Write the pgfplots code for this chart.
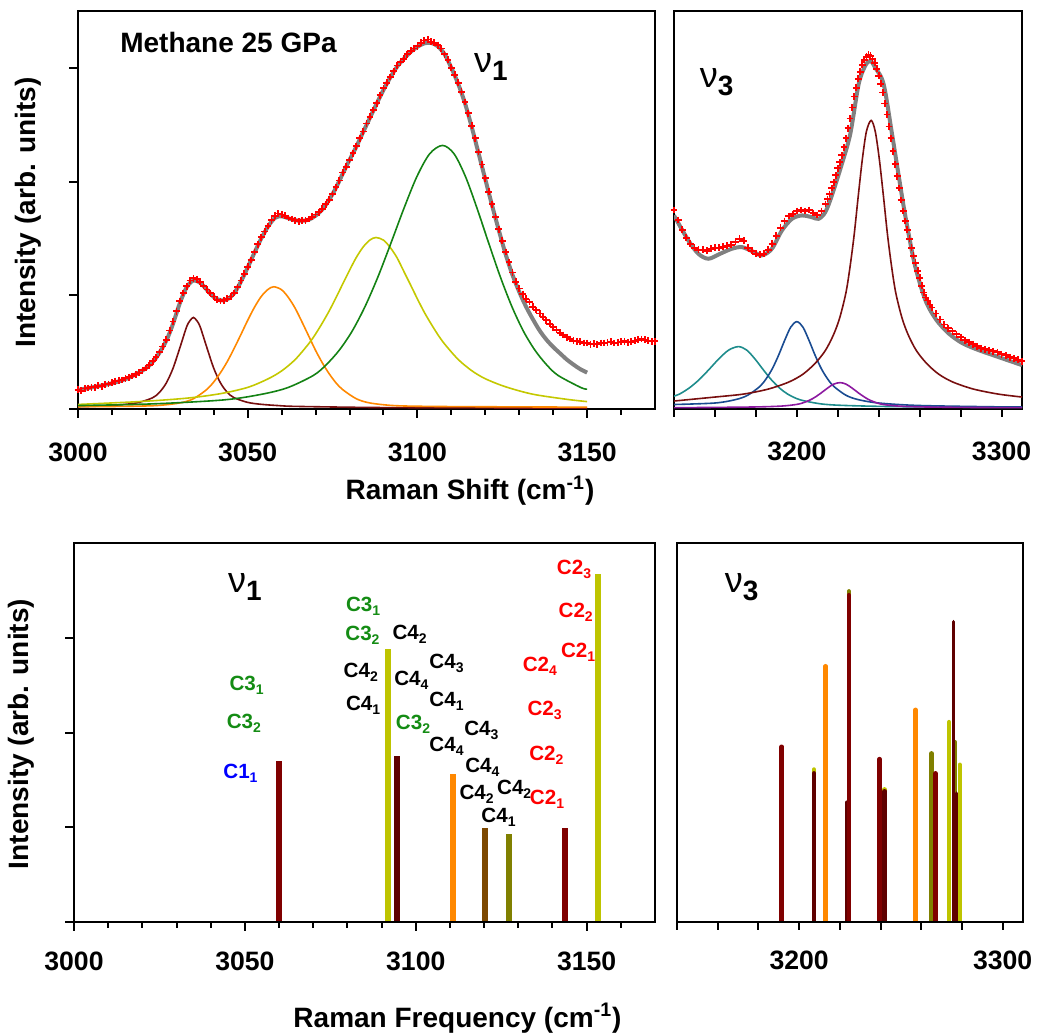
\documentclass[border=0pt]{standalone}
\usepackage{pgfplots}
\pgfplotsset{compat=1.18}
\usepackage{fontspec}
\setmainfont{Liberation Sans}
\definecolor{cmaroon}{RGB}{128,0,0}
\definecolor{cdmaroon}{RGB}{95,0,0}
\definecolor{cyg}{RGB}{190,196,0}
\definecolor{corange}{RGB}{255,136,0}
\definecolor{cbrown}{RGB}{125,72,0}
\definecolor{colive}{RGB}{128,128,0}
\definecolor{cgreen}{RGB}{20,130,20}
\definecolor{cyel}{RGB}{196,200,0}
\definecolor{cgray}{RGB}{128,128,128}
\definecolor{cteal}{RGB}{30,140,140}
\definecolor{cblue}{RGB}{25,75,145}
\definecolor{cpurple}{RGB}{140,25,160}
\definecolor{ccomp}{RGB}{120,15,15}
\definecolor{lgreen}{RGB}{20,140,20}
\newcommand{\lab}[3]{\textcolor{#1}{\bfseries\fontsize{10.3}{11}\selectfont C#2\raisebox{-2pt}{\fontsize{7}{7}\selectfont #3}}}
\newcommand{\nul}[1]{{\fontsize{18}{18}\selectfont ν}\raisebox{-4pt}{\bfseries\fontsize{14}{14}\selectfont #1}}
\pgfplotsset{
  panel/.style={scale only axis, anchor=south west, tick align=outside,
    xtick pos=bottom, ytick pos=left,
    tick style={black, line width=1pt},
    axis line style={line width=1.15pt},
    xticklabel style={font=\bfseries\fontsize{13.3}{14}\selectfont},
    major tick length=4.5pt, minor tick length=3pt},
  comp/.style={smooth, no marks, line width=0.8pt},
  fit/.style={smooth, no marks, line width=2pt, color=cgray},
  dat/.style={only marks, mark=+, mark size=1.7pt, color=red, mark options={line width=0.9pt}},
}
\begin{document}
\begin{tikzpicture}
\useasboundingbox (0,0) rectangle (518.5pt,516pt);
% ---------------- top left ----------------
\begin{axis}[panel, at={(39pt,311.5pt)}, width=288.5pt, height=199pt,
  xmin=3000, xmax=3170, ymin=0, ymax=3.5,
  xtick={3000,3050,3100,3150}, xticklabels={3000,3050,3100,3150},
  xticklabel style={yshift=-9pt},
  minor xtick={3010,3020,3030,3040,3060,3070,3080,3090,3110,3120,3130,3140,3160},
  ytick={0,1,2,3}, yticklabels={}]
\addplot[comp, color=ccomp] coordinates {(3000,0.02)(3004,0.023)(3009,0.03)(3014,0.041)(3018,0.058)(3022,0.099)(3024,0.146)(3026,0.228)(3028,0.358)(3030,0.537)(3032,0.722)(3033,0.777)(3034,0.805)(3035,0.777)(3036,0.722)(3038,0.537)(3040,0.358)(3042,0.228)(3044,0.146)(3046,0.099)(3050,0.058)(3054,0.041)(3059,0.03)(3064,0.023)(3084,0.014)(3100,0.011)(3125,0.009)(3150,0.008)};
\addplot[comp, color=corange] coordinates {(3000,0.02)(3013,0.023)(3023,0.03)(3030,0.053)(3034,0.09)(3038,0.173)(3040,0.238)(3042,0.32)(3044,0.418)(3046,0.533)(3048,0.655)(3050,0.78)(3052,0.895)(3054,0.99)(3056,1.052)(3057.7,1.075)(3060,1.048)(3062,0.98)(3064,0.885)(3066,0.765)(3068,0.64)(3070,0.515)(3072,0.405)(3074,0.31)(3076,0.23)(3078,0.17)(3082,0.09)(3086,0.053)(3093,0.03)(3103,0.023)(3118,0.02)(3150,0.016)};
\addplot[comp, color=cyel] coordinates {(3000,0.04)(3018,0.065)(3032,0.095)(3042,0.135)(3050,0.19)(3056,0.265)(3060,0.335)(3064,0.435)(3068,0.575)(3070,0.66)(3072,0.757)(3074,0.862)(3076,0.978)(3078,1.1)(3080,1.22)(3082,1.333)(3084,1.424)(3086,1.486)(3087.8,1.508)(3090,1.485)(3092,1.42)(3094,1.33)(3096,1.21)(3098,1.09)(3100,0.968)(3102,0.852)(3104,0.75)(3106,0.655)(3108,0.572)(3112,0.436)(3116,0.337)(3120,0.266)(3126,0.195)(3134,0.13)(3144,0.085)(3150,0.065)};
\addplot[comp, color=cgreen] coordinates {(3000,0.03)(3022,0.045)(3043,0.08)(3054.2,0.13)(3061.8,0.188)(3069.4,0.296)(3073.2,0.391)(3077,0.518)(3080.8,0.686)(3084.6,0.903)(3088.4,1.164)(3092.2,1.459)(3096,1.762)(3099.8,2.041)(3103.6,2.244)(3107.4,2.318)(3110.8,2.244)(3114.2,2.041)(3117.6,1.762)(3121,1.459)(3124.4,1.164)(3127.8,0.903)(3131.2,0.686)(3134.6,0.518)(3138,0.391)(3141.4,0.296)(3148.2,0.188)(3150,0.175)};
\addplot[dat] coordinates {(3000,0.17)(3001,0.16)(3002,0.18)(3003,0.185)(3004,0.19)(3005,0.19)(3006,0.205)(3007,0.2)(3008,0.215)(3009,0.22)(3010,0.23)(3011,0.245)(3012,0.25)(3013,0.255)(3014,0.27)(3015,0.28)(3016,0.29)(3017,0.305)(3018,0.32)(3019,0.34)(3020,0.36)(3021,0.385)(3022,0.42)(3023,0.455)(3024,0.5)(3025,0.55)(3026,0.61)(3027,0.69)(3028,0.77)(3029,0.86)(3030,0.95)(3031,1.02)(3032,1.08)(3033,1.13)(3034,1.15)(3035,1.14)(3036,1.12)(3037,1.085)(3038,1.05)(3039,1.02)(3040,0.99)(3041,0.96)(3042,0.95)(3043,0.955)(3044,0.97)(3045,0.99)(3046,1.02)(3047,1.07)(3048,1.13)(3049,1.19)(3050,1.25)(3051,1.31)(3052,1.38)(3053,1.45)(3054,1.51)(3055,1.56)(3056,1.61)(3057,1.66)(3058,1.7)(3059,1.72)(3060,1.71)(3061,1.7)(3062,1.68)(3063,1.67)(3064,1.66)(3065,1.65)(3066,1.66)(3067,1.655)(3068,1.67)(3069,1.69)(3070,1.71)(3071,1.73)(3072,1.76)(3073,1.8)(3074,1.84)(3075,1.89)(3076,1.95)(3077,2.01)(3078,2.08)(3079,2.13)(3080,2.19)(3081,2.25)(3082,2.31)(3083,2.38)(3084,2.44)(3085,2.51)(3086,2.57)(3087,2.63)(3088,2.69)(3089,2.76)(3090,2.82)(3091,2.87)(3092,2.92)(3093,2.97)(3094,3.02)(3095,3.05)(3096,3.08)(3097,3.12)(3098,3.15)(3099,3.17)(3100,3.19)(3101,3.22)(3102,3.24)(3103,3.25)(3104,3.23)(3105,3.22)(3106,3.2)(3107,3.17)(3108,3.12)(3109,3.07)(3110,3.0)(3111,2.94)(3112,2.87)(3113,2.79)(3114,2.7)(3115,2.6)(3116,2.49)(3117,2.38)(3118,2.26)(3119,2.15)(3120,2.03)(3121,1.91)(3122,1.8)(3123,1.69)(3124,1.58)(3125,1.48)(3126,1.38)(3127,1.29)(3128,1.2)(3129,1.12)(3130,1.06)(3131,1.01)(3132,0.97)(3133,0.94)(3134,0.9)(3135,0.87)(3136,0.84)(3137,0.81)(3138,0.78)(3139,0.75)(3140,0.72)(3141,0.695)(3142,0.67)(3143,0.65)(3144,0.63)(3145,0.615)(3146,0.6)(3147,0.595)(3148,0.59)(3149,0.58)(3150,0.58)(3151,0.57)(3152,0.575)(3153,0.57)(3154,0.58)(3155,0.58)(3156,0.585)(3157,0.59)(3158,0.58)(3159,0.585)(3160,0.59)(3161,0.595)(3162,0.585)(3163,0.59)(3164,0.6)(3165,0.61)(3166,0.615)(3167,0.61)(3168,0.6)(3169,0.595)(3170,0.595)};
\addplot[fit] coordinates {(3000,0.167)(3005,0.195)(3010,0.226)(3015,0.275)(3020,0.358)(3023,0.45)(3026,0.6)(3028,0.75)(3030,0.93)(3032,1.07)(3034,1.13)(3036,1.11)(3038,1.047)(3040,0.985)(3042,0.955)(3044,0.965)(3046,1.018)(3048,1.12)(3050,1.245)(3052,1.375)(3054,1.5)(3056,1.605)(3058,1.68)(3060,1.695)(3062,1.677)(3064,1.66)(3066,1.655)(3068,1.665)(3070,1.7)(3072,1.755)(3074,1.84)(3076,1.945)(3078,2.07)(3080,2.19)(3082,2.307)(3084,2.435)(3086,2.56)(3088,2.685)(3090,2.806)(3092,2.915)(3094,3.01)(3096,3.08)(3098,3.14)(3100,3.185)(3102,3.215)(3104,3.22)(3106,3.19)(3108,3.12)(3110,3.0)(3112,2.86)(3114,2.69)(3116,2.48)(3118,2.25)(3120,2.02)(3122,1.79)(3124,1.57)(3126,1.36)(3128,1.18)(3130,1.03)(3132,0.9)(3134,0.79)(3136,0.69)(3138,0.61)(3140,0.545)(3142,0.49)(3144,0.435)(3146,0.39)(3148,0.35)(3150,0.32)};
\end{axis}
% ---------------- top right ----------------
\begin{axis}[panel, at={(337pt,311.5pt)}, width=174pt, height=199pt,
  xmin=3140, xmax=3310, ymin=0, ymax=4,
  xtick={3140,3160,3180,3200,3220,3240,3260,3280,3300}, xticklabels={,,,3200,,,,,3300},
  xticklabel style={yshift=-9pt},
  major tick length=4pt, ytick=\empty]
\addplot[comp, color=cteal] coordinates {(3140,0.13)(3142.7,0.15)(3147.5,0.212)(3152.3,0.295)(3157.1,0.397)(3161.9,0.504)(3166.7,0.592)(3171.5,0.627)(3175.5,0.592)(3179.5,0.504)(3183.5,0.397)(3187.5,0.295)(3191.5,0.212)(3195.5,0.15)(3201.5,0.093)(3211.5,0.052)(3221.5,0.037)(3241.5,0.026)(3271.5,0.019)(3310,0.016)};
\addplot[comp, color=cblue] coordinates {(3140,0.045)(3160,0.06)(3170,0.094)(3176,0.138)(3182,0.228)(3185,0.303)(3188,0.404)(3191,0.536)(3194,0.687)(3197,0.822)(3200,0.878)(3203,0.822)(3206,0.687)(3209,0.536)(3212,0.404)(3215,0.303)(3218,0.228)(3224,0.138)(3230,0.094)(3240,0.06)(3260,0.035)(3300,0.021)(3310,0.02)};
\addplot[comp, color=cpurple] coordinates {(3140,0.013)(3161,0.016)(3181,0.021)(3193,0.03)(3201,0.05)(3206,0.086)(3209,0.12)(3212,0.163)(3215,0.21)(3218,0.25)(3221.2,0.265)(3224,0.25)(3227,0.21)(3230,0.163)(3233,0.12)(3236,0.086)(3241,0.05)(3249,0.03)(3261,0.021)(3281,0.016)(3310,0.013)};
\addplot[comp, color=ccomp] coordinates {(3140,0.08)(3160,0.12)(3174,0.15)(3186,0.2)(3196,0.27)(3203,0.35)(3209,0.46)(3214,0.59)(3218,0.75)(3221,0.92)(3224,1.17)(3226,1.43)(3228,1.75)(3230,2.14)(3232,2.51)(3234,2.79)(3236.3,2.9)(3238.3,2.79)(3240.3,2.51)(3242.3,2.14)(3244.3,1.75)(3246.3,1.43)(3248.3,1.17)(3251.3,0.92)(3254.3,0.75)(3258.3,0.59)(3263.3,0.46)(3269.3,0.35)(3276.3,0.27)(3286.3,0.2)(3298.3,0.15)(3310,0.12)};
\addplot[dat] coordinates {(3140,2.0)(3142,1.9)(3144,1.8)(3146,1.72)(3148,1.66)(3150,1.62)(3152,1.6)(3154,1.6)(3156,1.59)(3158,1.61)(3160,1.62)(3162,1.62)(3164,1.63)(3166,1.64)(3168,1.65)(3170,1.68)(3172,1.71)(3174,1.69)(3176,1.62)(3178,1.59)(3180,1.56)(3182,1.55)(3184,1.56)(3186,1.6)(3188,1.66)(3190,1.74)(3192,1.82)(3194,1.89)(3196,1.94)(3198,1.96)(3200,1.99)(3202,2.0)(3204,1.99)(3206,2.0)(3208,1.97)(3210,1.95)(3212,1.99)(3214,2.06)(3215,2.11)(3216,2.16)(3217,2.22)(3218,2.28)(3219,2.35)(3220,2.42)(3221,2.48)(3222,2.55)(3223,2.63)(3224,2.72)(3225,2.82)(3226,2.92)(3227,3.03)(3228,3.14)(3229,3.23)(3230,3.32)(3231,3.39)(3232,3.46)(3233,3.51)(3234,3.54)(3235,3.56)(3236,3.55)(3237,3.52)(3238,3.48)(3239,3.42)(3240,3.35)(3241,3.27)(3242,3.18)(3243,3.07)(3244,2.96)(3245,2.84)(3246,2.72)(3247,2.59)(3248,2.46)(3249,2.34)(3250,2.22)(3251,2.1)(3252,1.99)(3253,1.89)(3254,1.8)(3255,1.71)(3256,1.62)(3257,1.54)(3258,1.47)(3259,1.39)(3260,1.32)(3261,1.24)(3262,1.17)(3263,1.12)(3264,1.09)(3265,1.05)(3266,1.02)(3268,0.96)(3270,0.9)(3272,0.85)(3274,0.81)(3276,0.78)(3278,0.75)(3280,0.72)(3282,0.69)(3284,0.67)(3286,0.65)(3288,0.63)(3290,0.61)(3292,0.6)(3294,0.59)(3296,0.58)(3298,0.57)(3300,0.55)(3302,0.54)(3304,0.52)(3306,0.51)(3308,0.495)(3310,0.48)};
\addplot[fit] coordinates {(3140,1.945)(3147,1.694)(3151.9,1.56)(3156.8,1.51)(3162.5,1.56)(3168.2,1.61)(3173.1,1.627)(3178,1.587)(3182.9,1.544)(3187.8,1.61)(3192.7,1.794)(3197.6,1.911)(3202.4,1.945)(3207.3,1.928)(3210.6,1.911)(3213.9,1.978)(3217.1,2.145)(3222,2.463)(3226.1,2.764)(3230.2,3.265)(3233.4,3.449)(3235.9,3.499)(3238.3,3.43)(3242.4,3.265)(3246.5,2.764)(3251.7,2.095)(3254.6,1.76)(3257.9,1.427)(3262.8,1.093)(3268,0.9)(3274.2,0.759)(3281,0.66)(3288.9,0.591)(3296,0.54)(3303,0.49)(3310,0.441)};
\end{axis}
% ---------------- bottom left ----------------
\begin{axis}[panel, at={(37pt,55pt)}, width=290.5pt, height=189.5pt,
  xmin=3000, xmax=3170, ymin=0, ymax=4,
  xtick={3000,3050,3100,3150}, xticklabels={3000,3050,3100,3150},
  xticklabel style={yshift=-7pt},
  minor xtick={3010,3020,3030,3040,3060,3070,3080,3090,3110,3120,3130,3140,3160},
  ytick={0,1,2,3}, yticklabels={}, axis on top]
\addplot[ycomb, no marks, color=cmaroon, line width=3pt] coordinates {(3060,1.70)};
\addplot[ycomb, no marks, color=cyg, line width=3pt] coordinates {(3092,2.877)};
\addplot[ycomb, no marks, color=cdmaroon, line width=3pt] coordinates {(3094.6,1.75)};
\addplot[ycomb, no marks, color=corange, line width=3pt] coordinates {(3111,1.56)};
\addplot[ycomb, no marks, color=cbrown, line width=3pt] coordinates {(3120.3,0.99)};
\addplot[ycomb, no marks, color=colive, line width=3pt] coordinates {(3127.3,0.93)};
\addplot[ycomb, no marks, color=cmaroon, line width=3pt] coordinates {(3143.7,0.99)};
\addplot[ycomb, no marks, color=cyg, line width=3pt] coordinates {(3153.4,3.67)};
\node at (axis cs:3050.5,2.50) {\lab{lgreen}{3}{1}};
\node at (axis cs:3049.7,2.10) {\lab{lgreen}{3}{2}};
\node at (axis cs:3048.7,1.57) {\lab{blue}{1}{1}};
\node at (axis cs:3084.6,3.33) {\lab{lgreen}{3}{1}};
\node at (axis cs:3084.4,3.03) {\lab{lgreen}{3}{2}};
\node at (axis cs:3083.9,2.64) {\lab{black}{4}{2}};
\node at (axis cs:3084.6,2.29) {\lab{black}{4}{1}};
\node at (axis cs:3098.2,3.04) {\lab{black}{4}{2}};
\node at (axis cs:3098.7,2.55) {\lab{black}{4}{4}};
\node at (axis cs:3099.2,2.09) {\lab{lgreen}{3}{2}};
\node at (axis cs:3109,2.73) {\lab{black}{4}{3}};
\node at (axis cs:3109,2.33) {\lab{black}{4}{1}};
\node at (axis cs:3109,1.85) {\lab{black}{4}{4}};
\node at (axis cs:3119.2,2.02) {\lab{black}{4}{3}};
\node at (axis cs:3119.5,1.63) {\lab{black}{4}{4}};
\node at (axis cs:3117.8,1.35) {\lab{black}{4}{2}};
\node at (axis cs:3128.8,1.40) {\lab{black}{4}{2}};
\node at (axis cs:3124.2,1.10) {\lab{black}{4}{1}};
\node at (axis cs:3138.4,1.30) {\lab{red}{2}{1}};
\node at (axis cs:3138.2,1.76) {\lab{red}{2}{2}};
\node at (axis cs:3137.7,2.23) {\lab{red}{2}{3}};
\node at (axis cs:3136.3,2.70) {\lab{red}{2}{4}};
\node at (axis cs:3147.5,2.85) {\lab{red}{2}{1}};
\node at (axis cs:3146.8,3.27) {\lab{red}{2}{2}};
\node at (axis cs:3146.3,3.72) {\lab{red}{2}{3}};
\end{axis}
% ---------------- bottom right ----------------
\begin{axis}[panel, at={(338.5pt,55pt)}, width=173pt, height=189.5pt,
  xmin=3140, xmax=3310, ymin=0, ymax=4,
  xtick={3140,3160,3180,3200,3220,3240,3260,3280,3300}, xticklabels={,,,3200,,,,,3300},
  xticklabel style={yshift=-7pt},
  major tick length=4pt, ytick=\empty, axis on top]
\addplot[ycomb, no marks, color=cmaroon, line width=2.2pt, line cap=round] coordinates {(3191.4,1.85)};
\addplot[ycomb, no marks, color=cyg, line width=2.2pt, line cap=round] coordinates {(3207.3,1.61)};
\addplot[ycomb, no marks, color=cdmaroon, line width=2.2pt, line cap=round] coordinates {(3207.3,1.57)};
\addplot[ycomb, no marks, color=corange, line width=2.2pt, line cap=round] coordinates {(3213,2.70)};
\addplot[ycomb, no marks, color=cdmaroon, line width=2.2pt, line cap=round] coordinates {(3223.4,1.26)};
\addplot[ycomb, no marks, color=colive, line width=2.2pt, line cap=round] coordinates {(3224.4,3.49)};
\addplot[ycomb, no marks, color=cmaroon, line width=2.2pt, line cap=round] coordinates {(3224.4,3.45)};
\addplot[ycomb, no marks, color=cmaroon, line width=2.2pt, line cap=round] coordinates {(3239.5,1.72)};
\addplot[ycomb, no marks, color=cyg, line width=2.2pt, line cap=round] coordinates {(3242,1.40)};
\addplot[ycomb, no marks, color=cdmaroon, line width=2.2pt, line cap=round] coordinates {(3242,1.38)};
\addplot[ycomb, no marks, color=corange, line width=2.2pt, line cap=round] coordinates {(3257.2,2.24)};
\addplot[ycomb, no marks, color=colive, line width=2.2pt, line cap=round] coordinates {(3265,1.78)};
\addplot[ycomb, no marks, color=cmaroon, line width=2.2pt, line cap=round] coordinates {(3267,1.57)};
\addplot[ycomb, no marks, color=cyg, line width=2.2pt, line cap=round] coordinates {(3273.7,2.11)};
\addplot[ycomb, no marks, color=colive, line width=2.2pt, line cap=round] coordinates {(3276.4,1.90)};
\addplot[ycomb, no marks, color=cdmaroon, line width=1.7pt, line cap=round] coordinates {(3275.7,3.17)};
\addplot[ycomb, no marks, color=cdmaroon, line width=1.7pt, line cap=round] coordinates {(3277.2,1.36)};
\addplot[ycomb, no marks, color=cyg, line width=2.2pt, line cap=round] coordinates {(3278.9,1.66)};
\end{axis}
% ---------------- texts ----------------
\node[rotate=90, font=\bfseries\fontsize{14}{15}\selectfont] at (14pt,409.75pt) {Intensity (arb. units)};
\node[rotate=90, font=\bfseries\fontsize{14}{15}\selectfont] at (10.8pt,149pt) {Intensity (arb. units)};
\node[anchor=base, font=\bfseries\fontsize{14}{15}\selectfont] at (235pt,266pt) {Raman Shift (cm\textsuperscript{-1})};
\node[anchor=base, font=\bfseries\fontsize{14}{15}\selectfont] at (228.75pt,2.5pt) {Raman Frequency (cm\textsuperscript{-1})};
\node[font=\bfseries\fontsize{14}{15}\selectfont] at (114.25pt,494.5pt) {Methane 25 GPa};
\node at (245.5pt,482.5pt) {\nul{1}};
\node at (358.3pt,475pt) {\nul{3}};
\node at (122.5pt,222.5pt) {\nul{1}};
\node at (370.8pt,222.6pt) {\nul{3}};
\end{tikzpicture}
\end{document}
